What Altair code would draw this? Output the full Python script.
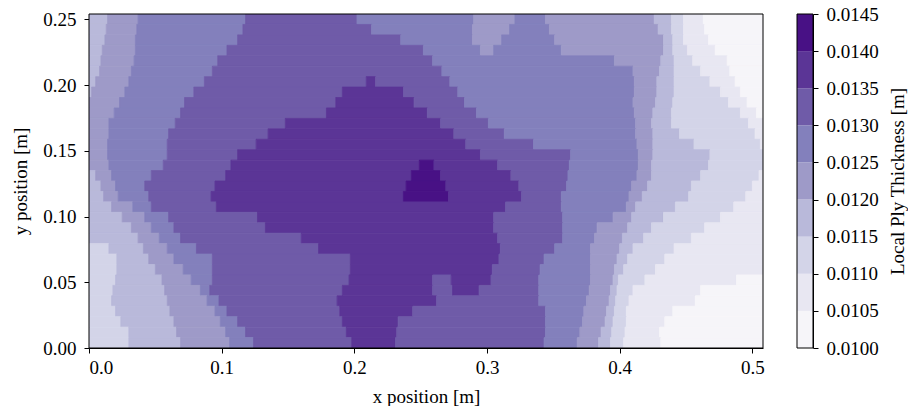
import altair as alt
import pandas as pd

X_MAX = 0.508
Y_MAX = 0.254
N_ROWS = 32

# contour band lower bounds [m] and their colours (Purples)
band_lo = [0.0100, 0.0105, 0.0110, 0.0115, 0.0120, 0.0125, 0.0130, 0.0135, 0.0140]
band_colors = ["#f6f5f9", "#e8e7f2", "#d3d4e8", "#b9b9da", "#9e9ac8",
               "#8380bc", "#6f5ba8", "#5b3596", "#481185"]
cbar_ticks = [0.0100, 0.0105, 0.0110, 0.0115, 0.0120, 0.0125, 0.0130, 0.0135, 0.0140, 0.0145]
x_ticks = [0.0, 0.1, 0.2, 0.3, 0.4, 0.5]
y_ticks = [0.00, 0.05, 0.10, 0.15, 0.20, 0.25]

# For each horizontal strip (top to bottom), the x [m]
# where each contour band ends, and the band index (0 = thinnest) of that run.
row_edges = [
    [0.014, 0.037, 0.118, 0.202, 0.290, 0.321, 0.344, 0.426, 0.439, 0.448, 0.463, 0.508],
    [0.013, 0.036, 0.116, 0.213, 0.289, 0.317, 0.347, 0.429, 0.439, 0.448, 0.464, 0.508],
    [0.012, 0.035, 0.112, 0.235, 0.289, 0.311, 0.351, 0.433, 0.440, 0.448, 0.467, 0.508],
    [0.010, 0.035, 0.104, 0.252, 0.295, 0.305, 0.356, 0.433, 0.440, 0.451, 0.472, 0.508],
    [0.009, 0.034, 0.097, 0.259, 0.396, 0.431, 0.441, 0.455, 0.481, 0.508],
    [0.008, 0.032, 0.093, 0.266, 0.410, 0.430, 0.441, 0.461, 0.483, 0.508],
    [0.005, 0.030, 0.087, 0.209, 0.216, 0.272, 0.411, 0.428, 0.441, 0.468, 0.487, 0.508],
    [0.002, 0.027, 0.079, 0.191, 0.237, 0.278, 0.411, 0.428, 0.441, 0.476, 0.491, 0.508],
    [0.023, 0.072, 0.186, 0.245, 0.283, 0.410, 0.427, 0.440, 0.482, 0.496, 0.508],
    [0.019, 0.069, 0.179, 0.255, 0.292, 0.411, 0.425, 0.439, 0.491, 0.503, 0.508],
    [0.015, 0.065, 0.148, 0.265, 0.301, 0.412, 0.424, 0.439, 0.497, 0.508],
    [0.015, 0.060, 0.135, 0.275, 0.313, 0.412, 0.425, 0.445, 0.502, 0.508],
    [0.014, 0.059, 0.126, 0.284, 0.335, 0.413, 0.425, 0.456, 0.506, 0.508],
    [0.014, 0.059, 0.112, 0.295, 0.363, 0.414, 0.425, 0.468, 0.508],
    [0.015, 0.056, 0.107, 0.249, 0.260, 0.308, 0.362, 0.414, 0.424, 0.467, 0.508],
    [0.005, 0.017, 0.047, 0.103, 0.243, 0.265, 0.318, 0.361, 0.413, 0.424, 0.461, 0.505, 0.508],
    [0.009, 0.020, 0.042, 0.095, 0.239, 0.269, 0.324, 0.360, 0.409, 0.421, 0.454, 0.500, 0.508],
    [0.011, 0.022, 0.045, 0.092, 0.237, 0.271, 0.326, 0.356, 0.407, 0.417, 0.452, 0.495, 0.508],
    [0.017, 0.033, 0.047, 0.096, 0.314, 0.356, 0.405, 0.412, 0.442, 0.486, 0.508],
    [0.025, 0.042, 0.060, 0.127, 0.305, 0.357, 0.395, 0.409, 0.433, 0.476, 0.508],
    [0.032, 0.047, 0.064, 0.133, 0.305, 0.357, 0.383, 0.406, 0.424, 0.464, 0.508],
    [0.037, 0.053, 0.069, 0.160, 0.308, 0.357, 0.381, 0.402, 0.418, 0.454, 0.508],
    [0.015, 0.041, 0.059, 0.081, 0.173, 0.310, 0.351, 0.378, 0.400, 0.410, 0.441, 0.508],
    [0.021, 0.045, 0.064, 0.093, 0.197, 0.309, 0.343, 0.378, 0.398, 0.406, 0.434, 0.508],
    [0.021, 0.050, 0.071, 0.093, 0.197, 0.304, 0.340, 0.378, 0.396, 0.403, 0.427, 0.508],
    [0.020, 0.055, 0.077, 0.093, 0.196, 0.259, 0.273, 0.303, 0.339, 0.378, 0.395, 0.399, 0.419, 0.488, 0.508],
    [0.018, 0.057, 0.084, 0.091, 0.191, 0.259, 0.274, 0.294, 0.339, 0.377, 0.393, 0.398, 0.410, 0.461, 0.508],
    [0.017, 0.059, 0.089, 0.098, 0.187, 0.262, 0.339, 0.375, 0.392, 0.397, 0.407, 0.457, 0.508],
    [0.020, 0.061, 0.095, 0.104, 0.189, 0.244, 0.344, 0.373, 0.390, 0.396, 0.405, 0.440, 0.508],
    [0.024, 0.064, 0.099, 0.112, 0.191, 0.233, 0.344, 0.372, 0.389, 0.395, 0.405, 0.434, 0.508],
    [0.030, 0.066, 0.103, 0.118, 0.194, 0.232, 0.344, 0.370, 0.386, 0.394, 0.404, 0.430, 0.508],
    [0.030, 0.069, 0.106, 0.124, 0.198, 0.231, 0.343, 0.368, 0.384, 0.393, 0.403, 0.431, 0.508],
]
row_bands = [
    [3, 4, 5, 6, 5, 4, 5, 4, 3, 2, 1, 0],
    [3, 4, 5, 6, 5, 4, 5, 4, 3, 2, 1, 0],
    [3, 4, 5, 6, 5, 4, 5, 4, 3, 2, 1, 0],
    [3, 4, 5, 6, 5, 4, 5, 4, 3, 2, 1, 0],
    [3, 4, 5, 6, 5, 4, 3, 2, 1, 0],
    [3, 4, 5, 6, 5, 4, 3, 2, 1, 0],
    [3, 4, 5, 6, 7, 6, 5, 4, 3, 2, 1, 0],
    [3, 4, 5, 6, 7, 6, 5, 4, 3, 2, 1, 0],
    [4, 5, 6, 7, 6, 5, 4, 3, 2, 1, 0],
    [4, 5, 6, 7, 6, 5, 4, 3, 2, 1, 0],
    [4, 5, 6, 7, 6, 5, 4, 3, 2, 1],
    [4, 5, 6, 7, 6, 5, 4, 3, 2, 1],
    [4, 5, 6, 7, 6, 5, 4, 3, 2, 1],
    [4, 5, 6, 7, 6, 5, 4, 3, 2],
    [4, 5, 6, 7, 8, 7, 6, 5, 4, 3, 2],
    [3, 4, 5, 6, 7, 8, 7, 6, 5, 4, 3, 2, 1],
    [3, 4, 5, 6, 7, 8, 7, 6, 5, 4, 3, 2, 1],
    [3, 4, 5, 6, 7, 8, 7, 6, 5, 4, 3, 2, 1],
    [3, 4, 5, 6, 7, 6, 5, 4, 3, 2, 1],
    [3, 4, 5, 6, 7, 6, 5, 4, 3, 2, 1],
    [3, 4, 5, 6, 7, 6, 5, 4, 3, 2, 1],
    [3, 4, 5, 6, 7, 6, 5, 4, 3, 2, 1],
    [2, 3, 4, 5, 6, 7, 6, 5, 4, 3, 2, 1],
    [2, 3, 4, 5, 6, 7, 6, 5, 4, 3, 2, 1],
    [2, 3, 4, 5, 6, 7, 6, 5, 4, 3, 2, 1],
    [2, 3, 4, 5, 6, 7, 6, 7, 6, 5, 4, 3, 2, 1, 0],
    [2, 3, 4, 5, 6, 7, 6, 7, 6, 5, 4, 3, 2, 1, 0],
    [2, 3, 4, 5, 6, 7, 6, 5, 4, 3, 2, 1, 0],
    [2, 3, 4, 5, 6, 7, 6, 5, 4, 3, 2, 1, 0],
    [2, 3, 4, 5, 6, 7, 6, 5, 4, 3, 2, 1, 0],
    [2, 3, 4, 5, 6, 7, 6, 5, 4, 3, 2, 1, 0],
    [2, 3, 4, 5, 6, 7, 6, 5, 4, 3, 2, 1, 0],
]

band_names = ["%.4f" % v for v in band_lo]

records = []
dy = Y_MAX / N_ROWS
for i, (edges, bands) in enumerate(zip(row_edges, row_bands)):
    assert len(edges) == len(bands), i
    y_hi = Y_MAX - i * dy
    y_lo = y_hi - dy
    x_start = 0.0
    for e, b in zip(edges, bands):
        records.append({"x0": x_start, "x1": e, "y0": y_lo, "y1": y_hi,
                        "band": band_names[b]})
        x_start = e
df = pd.DataFrame(records)

cb_df = pd.DataFrame({"lo": band_lo, "hi": [v + 0.0005 for v in band_lo],
                      "band": band_names})
frame_df = pd.DataFrame({"k": [0]})

FONT = "Liberation Serif"
FS = 19
W, H = 674, 334
CBW = 16
band_scale = alt.Scale(domain=band_names, range=band_colors)

contours = alt.Chart(df).mark_rect(strokeWidth=0.8, clip=True, opacity=1).encode(
    x=alt.X("x0:Q", scale=alt.Scale(domain=[0, X_MAX], nice=False, zero=False),
            axis=alt.Axis(values=x_ticks, format=".1f", title="x position [m]",
                          labelPadding=5, titlePadding=10)),
    x2="x1:Q",
    y=alt.Y("y0:Q", scale=alt.Scale(domain=[0, Y_MAX], nice=False, zero=False),
            axis=alt.Axis(values=y_ticks, format=".2f", title="y position [m]",
                          labelPadding=8, titlePadding=12)),
    y2="y1:Q",
    fill=alt.Fill("band:N", scale=band_scale, legend=None),
    stroke=alt.Stroke("band:N", scale=band_scale, legend=None),
)
frame = alt.Chart(frame_df).mark_rect(fillOpacity=0, stroke="black", strokeWidth=1).encode(
    x=alt.value(0), x2=alt.value(W), y=alt.value(0), y2=alt.value(H))
main = alt.layer(contours, frame).properties(width=W, height=H)

cbar_rects = alt.Chart(cb_df).mark_rect(opacity=1).encode(
    x=alt.value(0), x2=alt.value(CBW),
    y=alt.Y("lo:Q", scale=alt.Scale(domain=[0.0100, 0.0145], nice=False, zero=False),
            axis=alt.Axis(orient="right", values=cbar_ticks, format=".4f",
                          title="Local Ply Thickness [m]", titleAngle=270,
                          titleBaseline="top", labelPadding=8, titlePadding=10)),
    y2="hi:Q",
    fill=alt.Fill("band:N", scale=band_scale, legend=None),
)
cbar_frame = alt.Chart(frame_df).mark_rect(fillOpacity=0, stroke="black", strokeWidth=1).encode(
    x=alt.value(0), x2=alt.value(CBW), y=alt.value(0), y2=alt.value(H))
cbar = alt.layer(cbar_rects, cbar_frame).properties(width=CBW, height=H)

chart = alt.hconcat(main, cbar, spacing=31).properties(
    padding={"left": 11, "top": 5, "right": 0, "bottom": 0},
    background="white",
).configure_view(strokeWidth=0).configure_axis(
    grid=False, domainColor="black", domainWidth=1, tickColor="black",
    tickWidth=1, tickSize=5, labelFont=FONT, labelFontSize=FS, labelColor="black",
    titleFont=FONT, titleFontSize=FS, titleFontWeight="normal",
    titleColor="black"
)

chart.save("out.html", embed_options={"renderer": "svg", "actions": False})
